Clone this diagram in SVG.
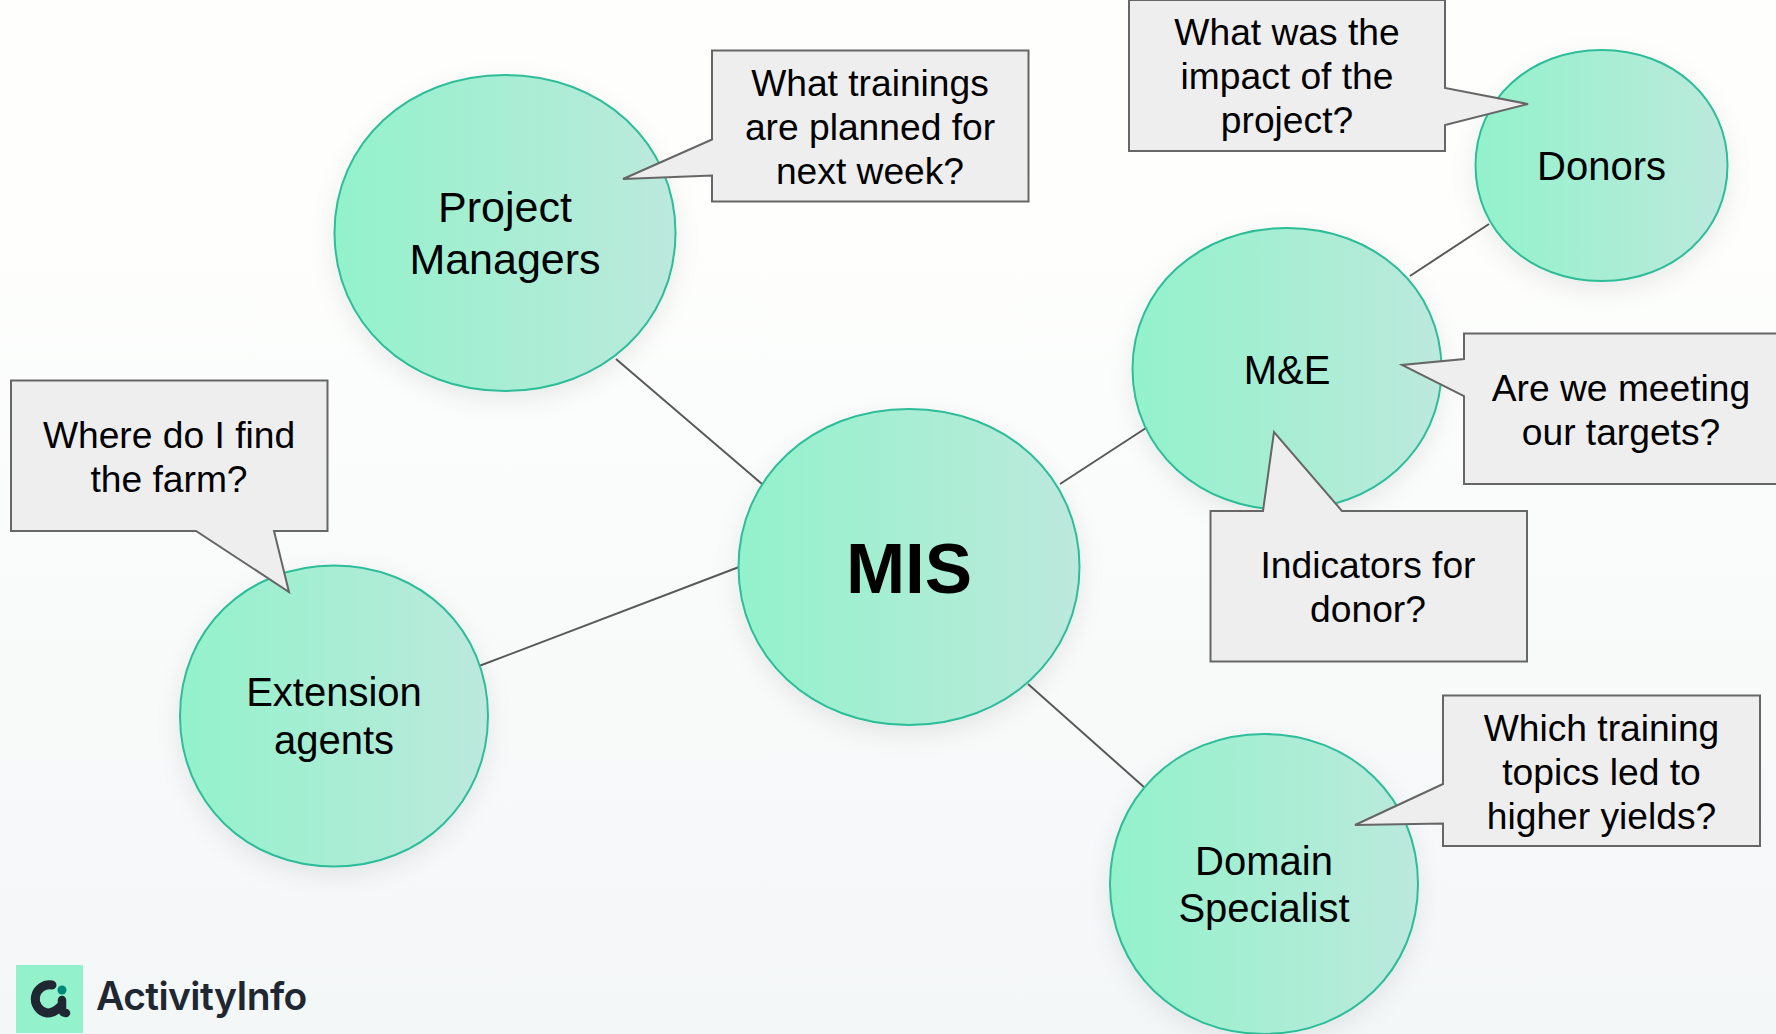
<svg xmlns="http://www.w3.org/2000/svg" width="1776" height="1034" viewBox="0 0 1776 1034">
<style>
.n{fill:url(#g);stroke:#2dbd98;stroke-width:2;filter:url(#s)}
.c{fill:#eeeeef;stroke:#666;stroke-width:2;stroke-linejoin:miter}
.t{font-family:"Liberation Sans",Arial,sans-serif;font-size:40px;fill:#000;text-anchor:middle}
.q{font-size:37.2px}
line{stroke:#595959;stroke-width:2}
</style>
<defs>
<linearGradient id="bg" x1="0" y1="0" x2="0" y2="1"><stop offset="0" stop-color="#fefffd"/><stop offset="0.15" stop-color="#fefffd"/><stop offset="1" stop-color="#f4f7f8"/></linearGradient>
<linearGradient id="g" x1="0" y1="0" x2="1" y2="0"><stop offset="0" stop-color="#93f2cb"/><stop offset="1" stop-color="#bce9dc"/></linearGradient>
<filter id="s" x="-20%" y="-20%" width="140%" height="140%"><feDropShadow dx="0" dy="8" stdDeviation="12" flood-color="#000" flood-opacity="0.08"/></filter>
</defs>
<rect width="1776" height="1034" fill="url(#bg)"/>
<g id="connectors">
<line x1="616" y1="359" x2="762" y2="484"/>
<line x1="479" y1="666" x2="739" y2="567"/>
<line x1="1060" y1="484" x2="1146" y2="428"/>
<line x1="1410" y1="276" x2="1489" y2="224"/>
<line x1="1028" y1="684" x2="1145" y2="788"/>
</g>
<g id="project-managers"><path class="n" d="M334.500 233c0-90 73.300-158 170.500-158c97.200 0 170.500 68 170.500 158c0 90-73.300 158-170.500 158c-97.200 0-170.500-68-170.500-158z"/><text class="t" x="505" y="222" style="font-size:43px">Project</text><text class="t" x="505" y="274" style="font-size:43px">Managers</text></g>
<g id="mis"><path class="n" d="M738.500 567c0-90 73.300-158 170.500-158c97.200 0 170.500 68 170.500 158c0 90-73.300 158-170.500 158c-97.200 0-170.500-68-170.500-158z"/><text class="t" x="909" y="593" style="font-size:71px;font-weight:700">MIS</text></g>
<g id="extension-agents"><path class="n" d="M180 716c0-85.800 66.200-150.500 154-150.500c87.800 0 154 64.700 154 150.500c0 85.800-66.200 150.500-154 150.500c-87.800 0-154-64.700-154-150.500z"/><text class="t" x="334" y="706">Extension</text><text class="t" x="334" y="754">agents</text></g>
<g id="me"><path class="n" d="M1132.500 369c0-80.400 66.500-141 154.500-141c88 0 154.500 60.600 154.500 141c0 80.400-66.500 141-154.500 141c-88 0-154.500-60.600-154.500-141z"/><text class="t" x="1287" y="384">M&amp;E</text></g>
<g id="donors"><path class="n" d="M1475.500 165.500c0-65.800 54.200-115.500 126-115.500c71.800 0 126 49.700 126 115.500c0 65.800-54.200 115.500-126 115.500c-71.800 0-126-49.700-126-115.500z"/><text class="t" x="1601.500" y="180">Donors</text></g>
<g id="domain-specialist"><path class="n" d="M1110 884c0-85.500 66.200-150 154-150c87.800 0 154 64.500 154 150c0 85.500-66.200 150-154 150c-87.800 0-154-64.500-154-150z"/><text class="t" x="1264" y="875">Domain</text><text class="t" x="1264" y="922">Specialist</text></g>
<g id="callout-trainings"><path class="c" d="M712 50.500H1028.500V201.500H712V175.500L623 179L712 139.500Z"/><text class="t q" x="870" y="96">What trainings</text><text class="t q" x="870" y="140">are planned for</text><text class="t q" x="870" y="184">next week?</text></g>
<g id="callout-impact"><path class="c" d="M1129 0H1445V88L1528 104L1445 125V151H1129Z"/><text class="t q" x="1287" y="45">What was the</text><text class="t q" x="1287" y="89">impact of the</text><text class="t q" x="1287" y="133">project?</text></g>
<g id="callout-targets"><path class="c" d="M1464 333.500H1780V484H1464V396L1402 365L1464 359Z"/><text class="t q" x="1621" y="401">Are we meeting</text><text class="t q" x="1621" y="445">our targets?</text></g>
<g id="callout-indicators"><path class="c" d="M1210.500 511H1263L1274 432L1342 511H1527V661.500H1210.500Z"/><text class="t q" x="1368" y="578">Indicators for</text><text class="t q" x="1368" y="622">donor?</text></g>
<g id="callout-farm"><path class="c" d="M11 380.500H327.500V531H274L289 592L196 531H11Z"/><text class="t q" x="169" y="448">Where do I find</text><text class="t q" x="169" y="492">the farm?</text></g>
<g id="callout-yields"><path class="c" d="M1443 695.500H1760V846H1443V823.500L1355 825L1443 784Z"/><text class="t q" x="1601.500" y="741">Which training</text><text class="t q" x="1601.500" y="785">topics led to</text><text class="t q" x="1601.500" y="829">higher yields?</text></g>
<g id="logo"><rect x="16" y="965" width="67" height="68" fill="#93f2cb"/>
<path d="M52 985A14 14 0 1 0 47 1013C52 1013 56 1011 60 1007" fill="none" stroke="#1f2733" stroke-width="9" stroke-linecap="round"/>
<path d="M62 1000V1007Q62 1013 66 1013" fill="none" stroke="#1f2733" stroke-width="8.500" stroke-linecap="round"/>
<circle cx="62" cy="990" r="4.500" fill="#00897b"/>
<text x="96" y="1010" style="font-family:Inter,sans-serif;font-size:39px;font-weight:600;fill:#1f2733;letter-spacing:-0.6px">ActivityInfo</text></g>
</svg>
